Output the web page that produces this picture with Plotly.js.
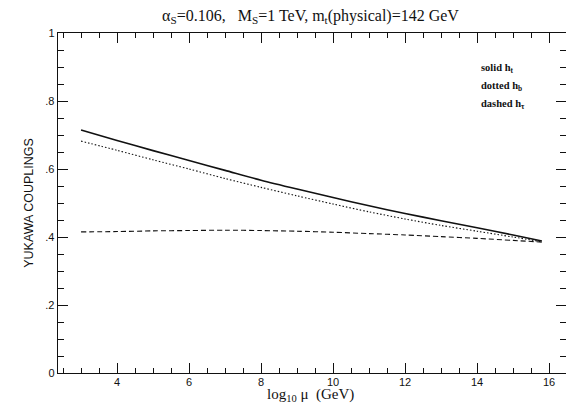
<!DOCTYPE html>
<html>
<head>
<meta charset="utf-8">
<script src="https://cdn.plot.ly/plotly-3.0.1.min.js"></script>
<style>html,body{margin:0;padding:0;background:#fff}#chart{width:566px;height:403px}</style>
</head>
<body>
<div id="chart"></div>
<script>
const logMu = [3, 4, 5, 6, 7, 8, 9, 10, 11, 12, 13, 14, 15, 15.8];
const hTop = [0.715, 0.684, 0.654, 0.625, 0.596, 0.567, 0.541, 0.516, 0.492, 0.469, 0.448, 0.427, 0.406, 0.388];
const hBottom = [0.682, 0.655, 0.627, 0.600, 0.572, 0.546, 0.521, 0.497, 0.474, 0.453, 0.434, 0.417, 0.400, 0.386];
const hTau = [0.415, 0.416, 0.418, 0.419, 0.420, 0.419, 0.417, 0.414, 0.410, 0.406, 0.401, 0.396, 0.390, 0.385];
const yTickVals = [0, 0.2, 0.4, 0.6, 0.8, 1];
const yTickText = ['0', '.2', '.4', '.6', '.8', '1'];
const xTickVals = [4, 6, 8, 10, 12, 14, 16];
const legendLines = ['solid h<sub>t</sub>', 'dotted h<sub>b</sub>', 'dashed h<sub>τ</sub>'];

const serif = 'Liberation Serif, Times New Roman, serif';
const sans = 'Liberation Sans, Arial, sans-serif';

const traces = [
  {x: logMu, y: hTop, mode: 'lines', line: {color: '#111', width: 1.6, dash: 'solid', shape: 'spline', smoothing: 0.8}},
  {x: logMu, y: hBottom, mode: 'lines', line: {color: '#111', width: 1.1, dash: '1.5px,2px', shape: 'spline', smoothing: 0.8}},
  {x: logMu, y: hTau, mode: 'lines', line: {color: '#111', width: 1.1, dash: '5px,3px', shape: 'spline', smoothing: 0.8}}
];

const annotations = legendLines.map((t, i) => ({
  text: '<b>' + t + '</b>', xref: 'paper', yref: 'paper', x: 0.829, y: 0.895 - i * 0.052,
  xanchor: 'left', yanchor: 'middle', showarrow: false,
  font: {family: serif, size: 10.5, color: '#111'}
}));
annotations.push({
  text: 'log<sub>10</sub> μ  (GeV)', xref: 'paper', yref: 'paper', x: 0.497, y: -0.066,
  xanchor: 'center', yanchor: 'middle', showarrow: false,
  font: {family: serif, size: 15, color: '#111'}
});

const layout = {
  width: 566, height: 403,
  margin: {l: 58, r: 0, t: 33, b: 30},
  paper_bgcolor: '#fff', plot_bgcolor: '#fff',
  showlegend: false,
  title: {
    text: 'α<sub>S</sub>=0.106,   M<sub>S</sub>=1 TeV, m<sub>t</sub>(physical)=142 GeV',
    font: {family: serif, size: 16, color: '#111'},
    x: 0.497, xref: 'paper', xanchor: 'center', y: 0.962, yref: 'container', yanchor: 'middle'
  },
  xaxis: {
    range: [2.36, 16.47], showgrid: false, zeroline: false,
    showline: true, linecolor: '#111', linewidth: 1.3, mirror: 'allticks',
    ticks: 'inside', tickvals: xTickVals, ticklen: 10, tickcolor: '#111', tickwidth: 1,
    minor: {dtick: 0.5, tick0: 0, ticks: 'inside', ticklen: 5, tickcolor: '#111', tickwidth: 1, showgrid: false},
    tickfont: {family: sans, size: 11, color: '#111'},
    ticklabelstandoff: -2
  },
  yaxis: {
    range: [0, 1], showgrid: false, zeroline: false,
    showline: true, linecolor: '#111', linewidth: 1.3, mirror: 'allticks',
    ticks: 'inside', tickvals: yTickVals, ticktext: yTickText, ticklen: 10, tickcolor: '#111', tickwidth: 1,
    minor: {dtick: 0.05, tick0: 0, ticks: 'inside', ticklen: 6, tickcolor: '#111', tickwidth: 1, showgrid: false},
    tickfont: {family: sans, size: 11, color: '#111'},
    title: {text: 'YUKAWA COUPLINGS', font: {family: sans, size: 12.5, color: '#111'}, standoff: 9}
  },
  annotations: annotations
};

Plotly.newPlot('chart', traces, layout, {staticPlot: true, displayModeBar: false});
</script>
</body>
</html>
